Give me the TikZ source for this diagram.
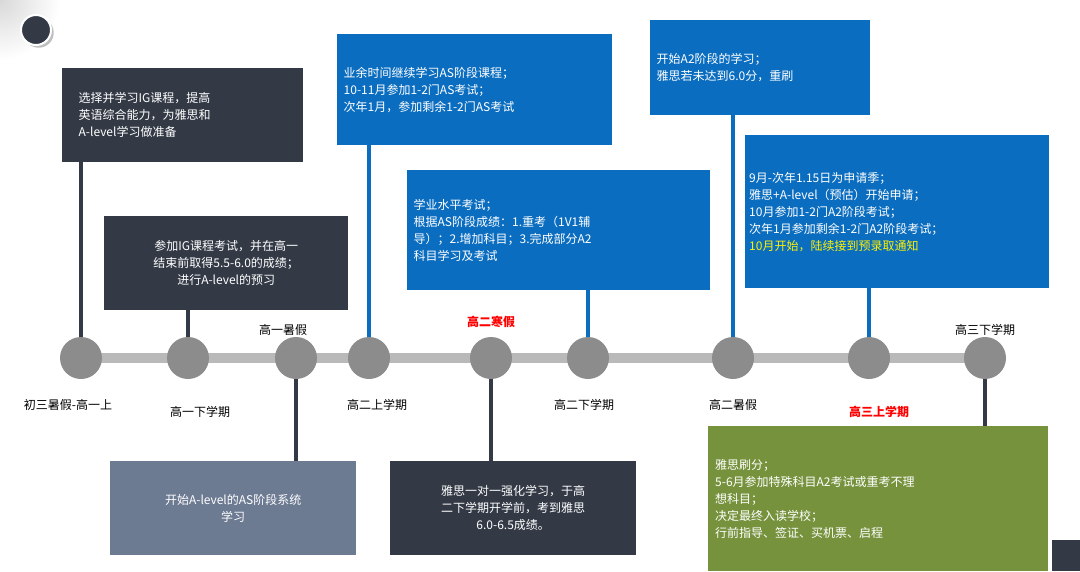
\documentclass[tikz,border=0pt]{standalone}
\usepackage{fontspec}
\setmainfont{Noto Sans CJK SC}
\usetikzlibrary{positioning,shadows}
\definecolor{darkbox}{HTML}{333A46}
\definecolor{bluebox}{HTML}{0A6DC0}
\definecolor{slatebox}{HTML}{6C7A92}
\definecolor{greenbox}{HTML}{76923C}
\definecolor{dotgray}{HTML}{8C8C8C}
\tikzset{
  infobox/.style={rectangle, text=white, font=\fontsize{12}{17}\selectfont, inner sep=6pt, anchor=north west, align=left},
  stem/.style={line width=4pt},
  dot/.style={circle, fill=dotgray, minimum size=42pt, inner sep=0pt},
  term/.style={font=\fontsize{12}{14}\selectfont},
  hot/.style={font=\fontsize{12}{14}\selectfont\bfseries, text=red}
}
\begin{document}
\begin{tikzpicture}[x=1pt,y=-1pt]
    \useasboundingbox (0,0) rectangle (1080,571);
    \fill[white] (0,0) rectangle (1080,571);
    \shade[inner color=gray!30, outer color=white] (0,0) circle (60);
    \fill[white] (60,0) rectangle (1080,571);
    \fill[white] (0,60) rectangle (60,571);
    \fill[darkbox] (1052,540) rectangle (1080,571);
    \node[circle, fill=darkbox, draw=white, line width=2pt, minimum size=30pt, drop shadow] (logo) at (36,30) {};
    % timeline
    \draw[line width=10pt, color=gray!55] (80,358) -- (988,358);
    \foreach \n/\x in {a/81,b/188,c/296,d/369,e/491,f/588,g/733,h/869,i/985}
        \node[dot] (\n) at (\x,358) {};
    % stage labels
    \node[term] (la) at (68,405) {初三暑假-高一上};
    \node[term] (lb) at (200,412) {高一下学期};
    \node[term] (lc) at (283,330) {高一暑假};
    \node[term] (ld) at (377,405) {高二上学期};
    \node[hot] (le) at (491,322) {高二寒假};
    \node[term] (lf) at (584,405) {高二下学期};
    \node[term] (lg) at (733,405) {高二暑假};
    \node[hot] (lh) at (879,412) {高三上学期};
    \node[term] (li) at (985,330) {高三下学期};
    % boxes
    \node[infobox, fill=darkbox, minimum width=241pt, minimum height=94pt, text width=208pt] (b1) at (62,68)
        {选择并学习IG课程，提高\\英语综合能力，为雅思和\\A-level学习做准备};
    \node[infobox, fill=darkbox, minimum width=244pt, minimum height=94pt, text width=232pt, align=center] (b2) at (104,216)
        {参加IG课程考试，并在高一\\结束前取得5.5-6.0的成绩；\\进行A-level的预习};
    \node[infobox, fill=bluebox, minimum width=275pt, minimum height=111pt, text width=262pt] (b3) at (337,34)
        {业余时间继续学习AS阶段课程；\\10-11月参加1-2门AS考试；\\次年1月，参加剩余1-2门AS考试};
    \node[infobox, fill=bluebox, minimum width=303pt, minimum height=120pt, text width=290pt] (b4) at (407,170)
        {学业水平考试；\\根据AS阶段成绩：1.重考（1V1辅\\导）；2.增加科目；3.完成部分A2\\科目学习及考试};
    \node[infobox, fill=bluebox, minimum width=220pt, minimum height=95pt, text width=207pt, inner sep=4pt] (b5) at (650,20)
        {开始A2阶段的学习；\\雅思若未达到6.0分，重刷};
    \node[infobox, fill=bluebox, minimum width=303pt, minimum height=153pt, text width=296pt, inner sep=4pt] (b6) at (745,135)
        {9月-次年1.15日为申请季；\\雅思+A-level（预估）开始申请；\\10月参加1-2门A2阶段考试；\\次年1月参加剩余1-2门A2阶段考试；\\\textcolor{yellow}{10月开始，陆续接到预录取通知}};
    \node[infobox, fill=slatebox, minimum width=246pt, minimum height=94pt, text width=234pt, align=center] (b7) at (110,461)
        {开始A-level的AS阶段系统\\学习};
    \node[infobox, fill=darkbox, minimum width=246pt, minimum height=94pt, text width=234pt, align=center] (b8) at (390,461)
        {雅思一对一强化学习，于高\\二下学期开学前，考到雅思\\6.0-6.5成绩。};
    \node[infobox, fill=greenbox, minimum width=340pt, minimum height=145pt, text width=326pt, inner sep=7pt] (b9) at (708,426)
        {雅思刷分；\\5-6月参加特殊科目A2考试或重考不理\\想科目；\\决定最终入读学校；\\行前指导、签证、买机票、启程};
    % stems
    \begin{scope}[on background layer/.style={}]
    \draw[stem, darkbox] (b1.south -| a) -- (a.north);
    \draw[stem, darkbox] (b2.south -| b) -- (b.north);
    \draw[stem, bluebox] (b3.south -| d) -- (d.north);
    \draw[stem, bluebox] (b4.south -| f) -- (f.north);
    \draw[stem, bluebox] (b5.south -| g) -- (g.north);
    \draw[stem, bluebox] (b6.south -| h) -- (h.north);
    \draw[stem, darkbox] (c.south) -- (b7.north -| c);
    \draw[stem, darkbox] (e.south) -- (b8.north -| e);
    \draw[stem, darkbox] (i.south) -- (b9.north -| i);
    \end{scope}
\end{tikzpicture}
\end{document}
